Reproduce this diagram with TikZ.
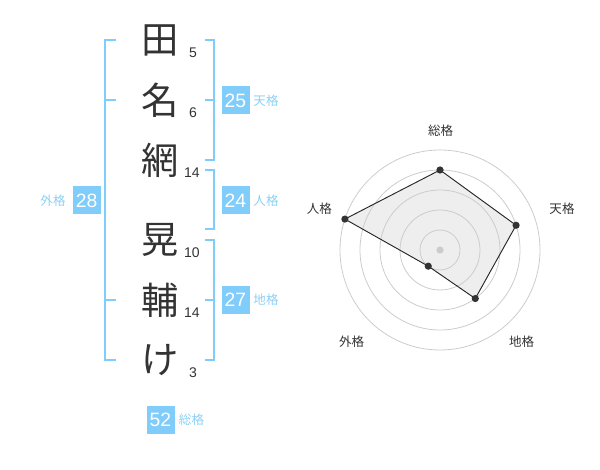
\documentclass[tikz,border=0pt]{standalone}
\usepackage{fontspec}
\setmainfont{Liberation Sans}
\newfontfamily\jpfont{Noto Sans CJK JP}
\definecolor{bbox}{RGB}{128,204,250}
\definecolor{blab}{RGB}{140,208,245}
\definecolor{ink}{RGB}{51,51,51}
\definecolor{ring}{RGB}{204,204,204}
\definecolor{polyfill}{RGB}{238,238,238}
\tikzset{
  kanji/.style={font=\jpfont\fontsize{28}{28}\selectfont, text=ink, inner sep=0pt},
  strokes/.style={font=\fontsize{10.5}{10.5}\selectfont, text=ink, inner sep=0pt},
  score/.style={fill=bbox, text=white, font=\fontsize{14.5}{14.5}\selectfont, minimum width=21pt, minimum height=21pt, inner sep=0pt},
  kaku/.style={text=blab, font=\jpfont\fontsize{9.4}{9.4}\selectfont, inner sep=0pt},
  brk/.style={draw=bbox, line width=1.5pt},
  ringline/.style={draw=ring, line width=0.6pt},
  poly/.style={draw=black!85, line width=0.7pt},
  vdot/.style={circle, fill=ink, minimum size=5.4pt, inner sep=0pt},
  cdot/.style={circle, fill=ring, minimum size=5.4pt, inner sep=0pt},
  rlab/.style={text=ink, font=\jpfont\fontsize{9.4}{9.4}\selectfont, inner sep=0pt}
}
\begin{document}
\begin{tikzpicture}[x=0.75pt,y=-0.75pt]
\useasboundingbox (0,0) rectangle (600,470);
% kanji
\node[kanji] (k1) at (160,40) {田};
\node[kanji] (k2) at (160,100) {名};
\node[kanji] (k3) at (160,160) {網};
\node[kanji] (k4) at (160,240) {晃};
\node[kanji] (k5) at (160,300) {輔};
\node[kanji] (k6) at (160,360) {け};
% stroke counts
\node[strokes] (n1) at (193,53) {5};
\node[strokes] (n2) at (193,113) {6};
\node[strokes] (n3) at (192,173) {14};
\node[strokes] (n4) at (192,253) {10};
\node[strokes] (n5) at (192,313) {14};
\node[strokes] (n6) at (193,373) {3};
% brackets
\draw[brk] (116,40) -- (105,40) -- (105,360) -- (116,360);
\draw[brk] (105,100) -- (116,100);
\draw[brk] (105,300) -- (116,300);
\draw[brk] (205,40) -- (214,40) -- (214,160) -- (205,160);
\draw[brk] (205,100) -- (214,100);
\draw[brk] (205,170) -- (214,170) -- (214,229) -- (205,229);
\draw[brk] (205,240) -- (214,240) -- (214,360) -- (205,360);
\draw[brk] (205,300) -- (214,300);
% scores
\node[score] (s28) at (86.7,200.5) {28};
\node[kaku] (l28) at (53,200.5) {外格};
\node[score] (s25) at (235.5,100.5) {25};
\node[kaku] (l25) at (266,100.5) {天格};
\node[score] (s24) at (235.5,200.5) {24};
\node[kaku] (l24) at (266,200.5) {人格};
\node[score] (s27) at (235.5,300) {27};
\node[kaku] (l27) at (266,300) {地格};
\node[score] (s52) at (160.5,419.5) {52};
\node[kaku] (l52) at (191.5,419.5) {総格};
% radar
\begin{scope}[shift={(440,250)}, x=0.75pt, y=0.75pt]
  \coordinate (vS) at (90:60pt);
  \coordinate (vT) at (18:60pt);
  \coordinate (vC) at (-54:45pt);
  \coordinate (vG) at (-126:15pt);
  \coordinate (vJ) at (162:75pt);
  \fill[polyfill] (vS) -- (vT) -- (vC) -- (vG) -- (vJ) -- cycle;
  \foreach \r in {15,30,45,60,75} \draw[ringline] (0,0) circle (\r pt);
  \node[cdot] (ctr) at (0,0) {};
  \draw[poly] (vS) -- (vT) -- (vC) -- (vG) -- (vJ) -- cycle;
  \node[vdot] (dS) at (vS) {};
  \node[vdot] (dT) at (vT) {};
  \node[vdot] (dC) at (vC) {};
  \node[vdot] (dG) at (vG) {};
  \node[vdot] (dJ) at (vJ) {};
\end{scope}
\node[rlab] (rS) at (440.7,130.7) {総格};
\node[rlab] (rT) at (562,209) {天格};
\node[rlab] (rC) at (521.7,341.7) {地格};
\node[rlab] (rG) at (351.7,341.7) {外格};
\node[rlab] (rJ) at (319.3,209) {人格};
\end{tikzpicture}
\end{document}
